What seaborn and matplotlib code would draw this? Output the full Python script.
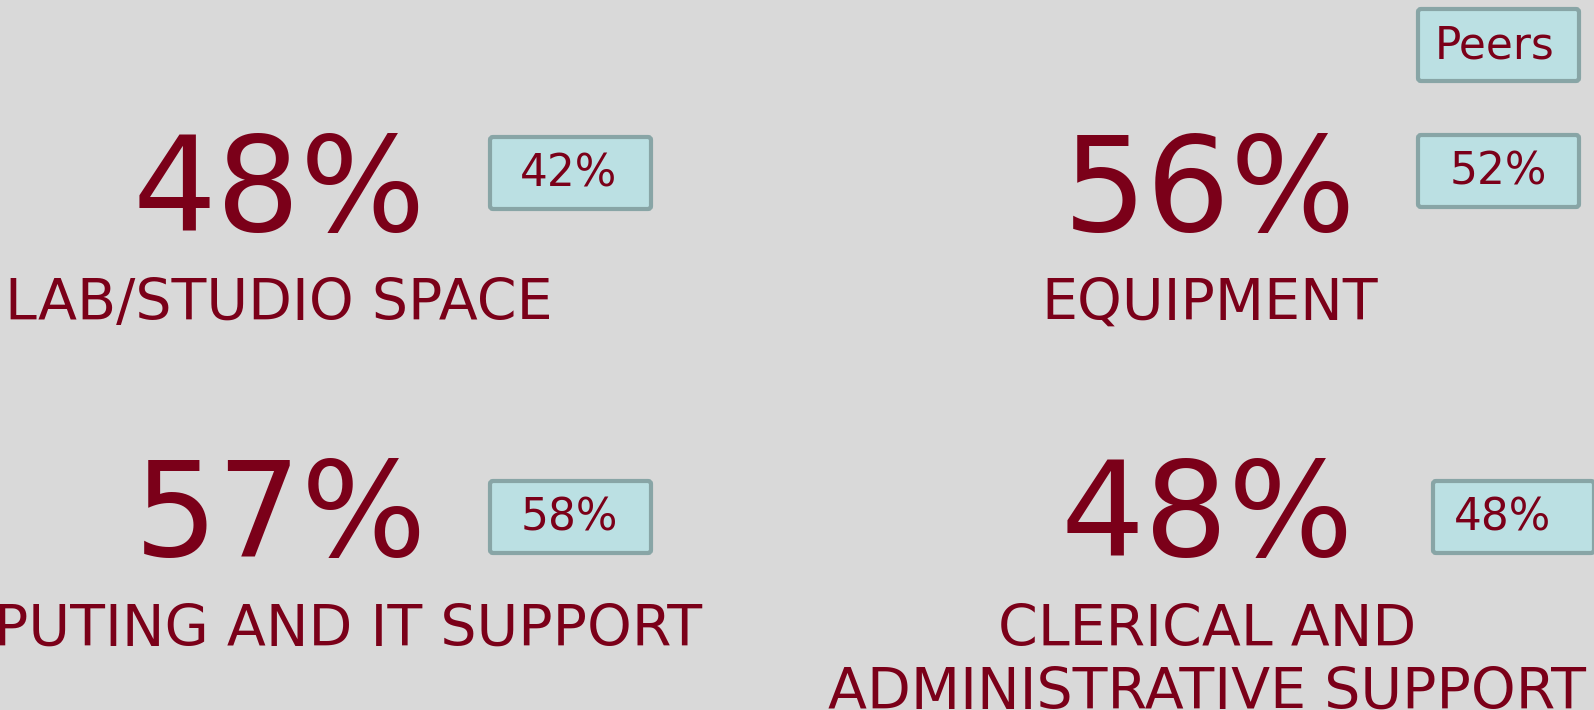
import matplotlib
matplotlib.use("Agg")
import matplotlib.pyplot as plt
import seaborn as sns
from matplotlib.patches import FancyBboxPatch

# Data
categories = ["LAB/STUDIO SPACE", "EQUIPMENT", "COMPUTING AND IT SUPPORT", "CLERICAL AND\nADMINISTRATIVE SUPPORT"]
values = [48, 56, 57, 48]
peers = [42, 52, 58, 48]
legend_label = "Peers"

# Colours
bg = "#d9d9d9"
txt = "#7b0019"
box_fill = "#bbe0e3"
box_edge = "#88a5a6"

sns.set_theme(style="white", rc={"figure.facecolor": bg, "axes.facecolor": bg})
plt.rcParams["font.family"] = ["DejaVu Sans"]

W, H = 1594, 710
fig = plt.figure(figsize=(W / 100, H / 100), dpi=100)
ax = fig.add_axes([0, 0, 1, 1])
ax.set_xlim(0, W)
ax.set_ylim(H, 0)
ax.axis("off")

# layout (pixel positions for each tile)
num_x = [279, 1210, 281, 1207]
num_base = [231, 231, 556, 556]
lab_base = [320, 320, 646, 646]
box_left = [490, 1418, 490, 1433]
box_top = [137, 135, 481, 481]
box_txt_x = [569, 1498, 569, 1503]
box_w, box_h = 161, 72


def draw_box(x0, y0, tx, label):
    ax.add_patch(FancyBboxPatch((x0, y0), box_w, box_h, boxstyle="round,pad=0,rounding_size=3",
                                facecolor=box_fill, edgecolor=box_edge, linewidth=3))
    ax.text(tx, y0 + box_h / 2 + 1, label, ha="center", va="center", fontsize=31.5, color=txt)


for i, cat in enumerate(categories):
    ax.text(num_x[i], num_base[i], f"{values[i]}%", ha="center", va="baseline",
            fontsize=95, color=txt)
    for j, line in enumerate(cat.split("\n")):
        ax.text(num_x[i], lab_base[i] + j * 63, line, ha="center", va="baseline",
                fontsize=41, color=txt)
    draw_box(box_left[i], box_top[i], box_txt_x[i], f"{peers[i]}%")

# legend box
draw_box(1418, 9, 1495, legend_label)

fig.savefig("out.png", dpi=100, facecolor=bg)
